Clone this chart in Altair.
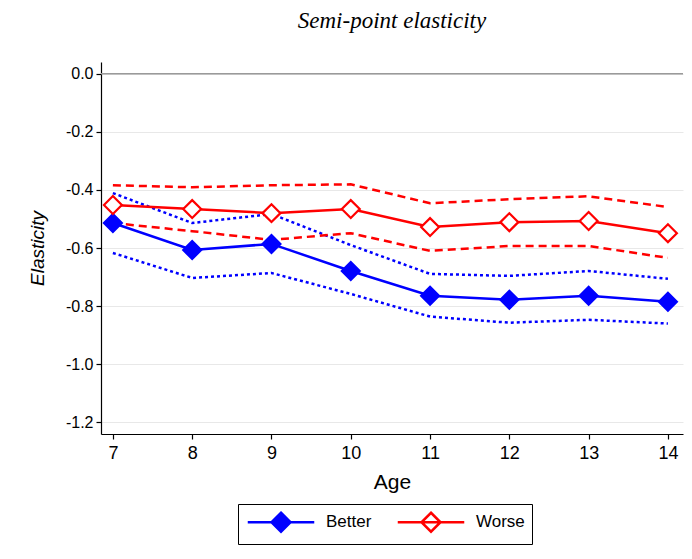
import altair as alt
import pandas as pd

ages = [7, 8, 9, 10, 11, 12, 13, 14]
better = [-0.514, -0.607, -0.586, -0.679, -0.764, -0.778, -0.764, -0.785]
better_lo = [-0.617, -0.703, -0.686, -0.758, -0.836, -0.857, -0.847, -0.860]
better_hi = [-0.411, -0.514, -0.483, -0.590, -0.689, -0.696, -0.679, -0.706]
worse = [-0.452, -0.466, -0.480, -0.466, -0.528, -0.511, -0.507, -0.549]
worse_lo = [-0.514, -0.542, -0.572, -0.549, -0.610, -0.593, -0.593, -0.634]
worse_hi = [-0.384, -0.391, -0.384, -0.381, -0.446, -0.432, -0.422, -0.459]
series = ["Better", "Worse"]
stroke_colors = ["#0000ff", "#ff0000"]
fill_colors = ["#0000ff", "#ffffff"]
y_ticks = [0.0, -0.2, -0.4, -0.6, -0.8, -1.0, -1.2]

est_rows = []
ci_rows = []
for s, est, lo, hi in [("Better", better, better_lo, better_hi), ("Worse", worse, worse_lo, worse_hi)]:
    for a, e, l, h in zip(ages, est, lo, hi):
        est_rows.append({"age": a, "series": s, "val": e})
        ci_rows.append({"age": a, "series": s, "bound": "lo", "val": l})
        ci_rows.append({"age": a, "series": s, "bound": "hi", "val": h})
est_df = pd.DataFrame(est_rows)
ci_df = pd.DataFrame(ci_rows)

x_enc = alt.X("age:Q", scale=alt.Scale(domain=[6.85, 14.19], nice=False, zero=False),
              axis=alt.Axis(values=ages, title="Age", grid=False, format="d"))
y_enc = alt.Y("val:Q", scale=alt.Scale(domain=[-1.24, 0.04], nice=False, zero=False),
              axis=alt.Axis(values=y_ticks, format=".1f", title="Elasticity", titleFontStyle="italic",
                            labelExpr="replace(datum.label, '\u2212', '-')"))
stroke_scale = alt.Scale(domain=series, range=stroke_colors)
fill_scale = alt.Scale(domain=series, range=fill_colors)

legend_path = "M-3.5,0H3.5M0,-1L1,0L0,1L-1,0Z"
leg = alt.Legend(title=None, orient="none", legendX=137, legendY=442, direction="horizontal",
                 symbolType=legend_path, symbolSize=361, symbolStrokeWidth=2.5,
                 symbolOffset=25, labelOffset=34, columnPadding=20,
                 labelFont="Liberation Sans", labelFontSize=17, labelColor="black",
                 strokeColor="black", padding=7, symbolOpacity=1)

zero = alt.Chart(pd.DataFrame({"val": [0.0]})).mark_rule(color="#9a9a9a", strokeWidth=1.5).encode(y=alt.Y("val:Q"))

ci_better = alt.Chart(ci_df[ci_df["series"] == "Better"]).mark_line(strokeWidth=2.5, strokeDash=[3, 3]).encode(
    x=x_enc, y=y_enc,
    stroke=alt.Stroke("series:N", scale=stroke_scale, legend=leg),
    detail="bound:N",
)
ci_worse = alt.Chart(ci_df[ci_df["series"] == "Worse"]).mark_line(strokeWidth=2.5, strokeDash=[8, 5]).encode(
    x=x_enc, y=y_enc,
    stroke=alt.Stroke("series:N", scale=stroke_scale, legend=leg),
    detail="bound:N",
)

line = alt.Chart(est_df).mark_line(strokeWidth=2.5).encode(
    x=x_enc, y=y_enc,
    stroke=alt.Stroke("series:N", scale=stroke_scale, legend=leg),
)

pts = alt.Chart(est_df).mark_point(shape="diamond", size=320, strokeWidth=2.2, opacity=1, filled=True).encode(
    x=x_enc, y=y_enc,
    stroke=alt.Stroke("series:N", scale=stroke_scale, legend=leg),
    fill=alt.Fill("series:N", scale=fill_scale, legend=leg),
)

chart = alt.layer(zero, ci_better, ci_worse, line, pts).properties(
    width=582, height=372,
    padding={"left": 20, "top": 2, "right": 0, "bottom": 5},
    title=alt.TitleParams("Semi-point elasticity", font="Liberation Serif", fontStyle="italic",
                          fontSize=23, fontWeight="normal", anchor="middle", offset=29, color="black"),
).configure_view(stroke=None).configure_axis(
    labelFont="Liberation Sans", titleFont="Liberation Sans", labelColor="black", titleColor="black",
    domainColor="black", tickColor="black", tickSize=5, domainWidth=1.2, tickWidth=1.2,
    gridColor="#e8e8e8", titleFontWeight="normal",
).configure_axisY(labelFontSize=16, titleFontSize=19, titlePadding=18, labelPadding=3
).configure_axisX(labelFontSize=18, titleFontSize=21, labelPadding=5, titlePadding=9)

chart.save("out.html", embed_options={"renderer": "svg", "actions": False})
